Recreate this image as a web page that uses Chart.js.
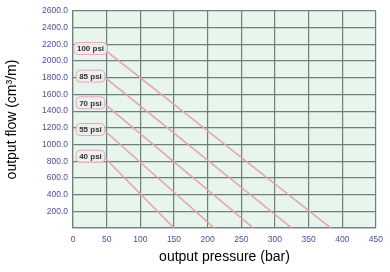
<!DOCTYPE html>
<html>
<head>
<meta charset="utf-8">
<script src="https://cdn.jsdelivr.net/npm/chart.js@4"></script>
<style>
  html, body { margin: 0; padding: 0; background: #fff; }
  #wrap { width: 390px; height: 272px; }
</style>
</head>
<body>
<div id="wrap"><canvas id="chart" width="390" height="272"></canvas></div>
<script>
const psiLabels = ['100 psi', '85 psi', '70 psi', '55 psi', '40 psi'];
// each curve: [pressure (bar), flow (cm3/m)] start and stall point
const psi100 = [{ x: 45, y: 2150 }, { x: 383, y: 0 }];
const psi85 = [{ x: 45, y: 1820 }, { x: 325, y: 0 }];
const psi70 = [{ x: 45, y: 1500 }, { x: 268, y: 0 }];
const psi55 = [{ x: 45, y: 1180 }, { x: 210, y: 0 }];
const psi40 = [{ x: 45, y: 860 }, { x: 150, y: 0 }];
const labelFlow = [2150, 1820, 1500, 1180, 860];
const labelPressure = 26;

const curves = [psi100, psi85, psi70, psi55, psi40];

const plotBg = {
    id: 'plotBg',
    beforeDraw(chart) {
        const { ctx, chartArea: a } = chart;
        ctx.save();
        ctx.fillStyle = '#e7f5ed';
        ctx.fillRect(a.left, a.top, a.right - a.left, a.bottom - a.top);
        ctx.restore();
    }
};

const psiTags = {
    id: 'psiTags',
    afterDatasetsDraw(chart) {
        const { ctx, scales } = chart;
        ctx.save();
        ctx.font = 'bold 8px "Liberation Sans", Arial, sans-serif';
        ctx.textBaseline = 'middle';
        ctx.textAlign = 'center';
        psiLabels.forEach((t, i) => {
            const x = scales.x.getPixelForValue(labelPressure);
            const y = scales.y.getPixelForValue(labelFlow[i]);
            const w = ctx.measureText(t).width + 6;
            ctx.fillStyle = 'rgba(240,238,240,0.9)';
            ctx.strokeStyle = '#e7a6bc';
            ctx.lineWidth = 1;
            ctx.beginPath();
            ctx.roundRect(x - w / 2, y - 6, w, 12, 4);
            ctx.fill();
            ctx.stroke();
            ctx.fillStyle = '#333';
            ctx.fillText(t, x, y + 0.5);
        });
        ctx.restore();
    }
};

new Chart(document.getElementById('chart').getContext('2d'), {
    type: 'line',
    data: {
        datasets: curves.map((c, i) => ({
            label: psiLabels[i],
            data: c,
            borderColor: '#e6a0b4',
            borderWidth: 1.5,
            pointRadius: 0,
            tension: 0
        }))
    },
    options: {
        responsive: false,
        animation: false,
        layout: { padding: { top: 11, right: 11, left: 0, bottom: 0 } },
        plugins: { legend: { display: false }, tooltip: { enabled: false } },
        scales: {
            x: {
                type: 'linear',
                min: 0,
                max: 450,
                ticks: {
                    stepSize: 50,
                    color: '#4e4ea0',
                    font: { size: 8.5, family: '"Liberation Sans", Arial' },
                    padding: 7
                },
                grid: { color: '#6f7f7f', lineWidth: 1.2, drawTicks: false },
                border: { color: '#6f7f7f', width: 1.2 },
                title: {
                    display: true,
                    text: 'output pressure (bar)',
                    color: '#000',
                    font: { size: 14, family: '"Liberation Sans", Arial' },
                    padding: { top: 0, bottom: 6 }
                },
                afterFit(s) { s.height = 44; }
            },
            y: {
                min: 0,
                max: 2600,
                ticks: {
                    stepSize: 200,
                    color: '#4e4ea0',
                    font: { size: 8.5, family: '"Liberation Sans", Arial' },
                    padding: 5,
                    callback: v => v === 0 ? '' : v.toFixed(1)
                },
                grid: { color: '#6f7f7f', lineWidth: 1.2, drawTicks: false },
                border: { color: '#6f7f7f', width: 1.2 },
                title: {
                    display: true,
                    text: 'output flow (cm³/m)',
                    color: '#000',
                    font: { size: 14, family: '"Liberation Sans", Arial' },
                    padding: { top: 4, bottom: 0 }
                },
                afterFit(s) { s.width = 73; }
            }
        }
    },
    plugins: [plotBg, psiTags]
});
</script>
</body>
</html>
